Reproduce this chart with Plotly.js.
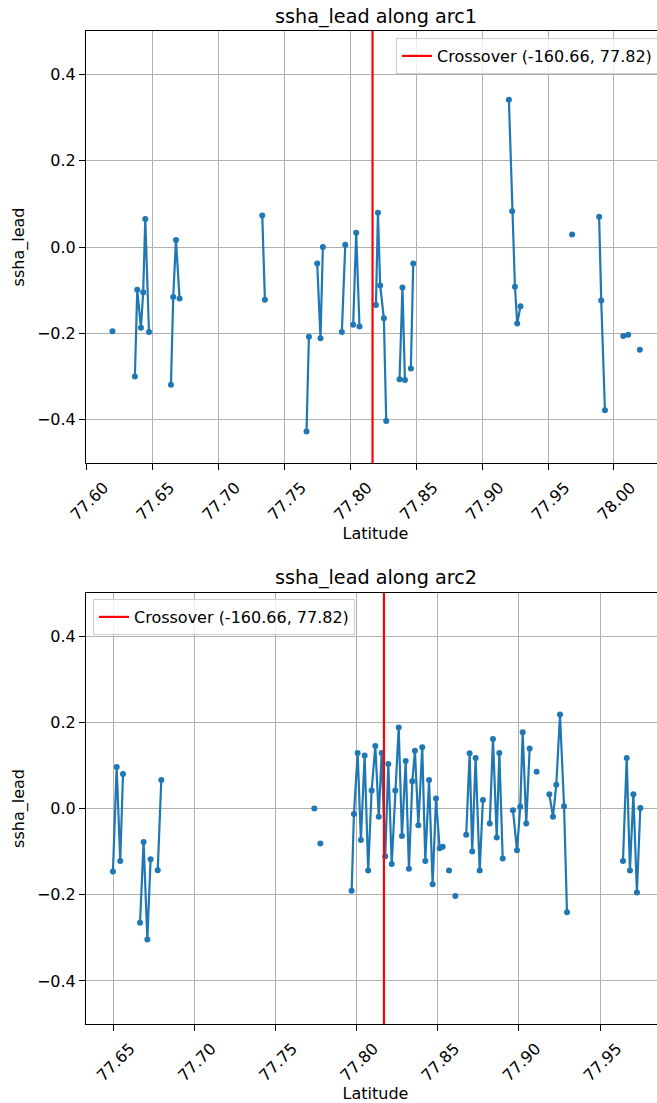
<!DOCTYPE html>
<html>
<head>
<meta charset="utf-8">
<script src="https://cdn.plot.ly/plotly-3.0.1.min.js"></script>
<style>
  html, body { margin: 0; padding: 0; overflow: hidden; background: #fff; }
  #chart { width: 700px; height: 1103px; }
</style>
</head>
<body>
<div id="chart"></div>
<script>
// ---- data (null = gap between along-track segments) ----
const arc1Lat = [77.6194, null,
  77.6364, 77.6382, 77.6410, 77.6427, 77.6443, 77.6471, null,
  77.6638, 77.6655, 77.6676, 77.6703, null,
  77.7331, 77.7351, null,
  77.7667, 77.7685, null,
  77.7748, 77.7773, 77.7791, null,
  77.7935, 77.7961, null,
  77.8021, 77.8044, 77.8069, null,
  77.8194, 77.8209, 77.8226, 77.8254, 77.8272, null,
  77.8373, 77.8395, 77.8414, null,
  77.8459, 77.8477, null,
  77.9203, 77.9228, 77.9249, 77.9266, 77.9291, null,
  77.9683, null,
  77.9888, 77.9904, 77.9932, null,
  78.0071, 78.0109, null,
  78.0197];
const arc1Ssha = [-0.195, null,
  -0.300, -0.099, -0.187, -0.105, 0.065, -0.197, null,
  -0.319, -0.116, 0.016, -0.119, null,
  0.073, -0.122, null,
  -0.427, -0.208, null,
  -0.038, -0.211, 0.000, null,
  -0.197, 0.005, null,
  -0.180, 0.033, -0.184, null,
  -0.134, 0.079, -0.089, -0.165, -0.403, null,
  -0.306, -0.094, -0.308, null,
  -0.281, -0.038, null,
  0.341, 0.083, -0.092, -0.177, -0.137, null,
  0.029, null,
  0.070, -0.124, -0.378, null,
  -0.206, -0.203, null,
  -0.238];

const arc2Lat = [
  77.6498, 77.6521, 77.6543, 77.6560, null,
  77.6665, 77.6687, 77.6710, 77.6730, null,
  77.6774, 77.6796, null,
  77.7739, null,
  77.7776, null,
  77.7969, 77.7983, 77.8006, 77.8026, 77.8049, 77.8071, 77.8092, 77.8115, 77.8136, 77.8154,
  77.8176, 77.8195, 77.8216, 77.8238, 77.8259, 77.8279, 77.8302, 77.8322, 77.8343, 77.8359,
  77.8380, 77.8404, 77.8423, 77.8446, 77.8468, 77.8489, 77.8511, 77.8530, null,
  77.8569, null,
  77.8608, null,
  77.8675, 77.8696, 77.8712, 77.8733, 77.8758, 77.8778, null,
  77.8820, 77.8840, 77.8863, 77.8879, 77.8900, null,
  77.8963, 77.8988, 77.9008, 77.9023, 77.9045, 77.9066, null,
  77.9109, null,
  77.9187, 77.9210, 77.9230, 77.9253, 77.9278, 77.9296, null,
  77.9641, 77.9664, 77.9684, 77.9705, 77.9727, 77.9748];
const arc2Ssha = [
  -0.146, 0.096, -0.122, 0.080, null,
  -0.265, -0.078, -0.304, -0.118, null,
  -0.143, 0.066, null,
  0.000, null,
  -0.081, null,
  -0.191, -0.013, 0.129, -0.073, 0.123, -0.144, 0.042, 0.145, -0.019, 0.129,
  -0.111, 0.103, -0.129, 0.042, 0.188, -0.064, 0.110, -0.140, 0.063, 0.134,
  -0.039, 0.142, -0.122, 0.066, -0.176, 0.023, -0.092, -0.089, null,
  -0.144, null,
  -0.203, null,
  -0.061, 0.128, -0.100, 0.117, -0.144, 0.020, null,
  -0.035, 0.161, -0.067, 0.129, -0.116, null,
  -0.004, -0.097, 0.004, 0.177, -0.035, 0.139, null,
  0.085, null,
  0.033, -0.019, 0.055, 0.218, 0.005, -0.241, null,
  -0.122, 0.117, -0.144, 0.033, -0.195, 0.001];

const crossoverLat = 77.8168;
const crossoverLabel = "Crossover (-160.66, 77.82)";
const yTicks = [-0.4, -0.2, 0.0, 0.2, 0.4];
const x1Ticks = [77.60, 77.65, 77.70, 77.75, 77.80, 77.85, 77.90, 77.95, 78.00];
const x2Ticks = [77.65, 77.70, 77.75, 77.80, 77.85, 77.90, 77.95];
const titles = ["ssha_lead along arc1", "ssha_lead along arc2"];

// ---- styling / layout ----
const W = 700, H = 1103;
const FONT = "DejaVu Sans, sans-serif";
const BLUE = "#1f77b4";
const px = v => v / W;
const py = v => 1 - v / H;
const left = 86, right = 665;
const FS = 16;

const lineStyle = {color: BLUE, width: 2.2};
const markerStyle = {color: BLUE, size: 6};

const traces = [
  {x: arc1Lat, y: arc1Ssha, xaxis: "x", yaxis: "y", mode: "lines+markers",
   line: lineStyle, marker: markerStyle, showlegend: false, connectgaps: false},
  {x: [crossoverLat, crossoverLat], y: [-0.5, 0.5], xaxis: "x", yaxis: "y", mode: "lines",
   line: {color: "red", width: 2.2}, name: crossoverLabel, legend: "legend"},
  {x: arc2Lat, y: arc2Ssha, xaxis: "x2", yaxis: "y2", mode: "lines+markers",
   line: lineStyle, marker: markerStyle, showlegend: false, connectgaps: false},
  {x: [crossoverLat, crossoverLat], y: [-0.5, 0.5], xaxis: "x2", yaxis: "y2", mode: "lines",
   line: {color: "red", width: 2.2}, name: crossoverLabel, legend: "legend2"}
];

function xAxis(domainRange, ticks, anchor) {
  return {
    domain: [px(left), px(right)], range: domainRange, anchor: anchor,
    tickmode: "array", tickvals: ticks, tickformat: ".2f", tickangle: -45,
    ticks: "outside", ticklen: 6, tickwidth: 1, tickcolor: "#000",
    ticklabelshift: 17, ticklabelstandoff: 2,
    showline: true, linecolor: "#000", linewidth: 1, mirror: true,
    showgrid: true, gridcolor: "#b0b0b0", gridwidth: 1, zeroline: false,
    tickfont: {family: FONT, size: FS, color: "#000"},
    title: {text: "Latitude", font: {family: FONT, size: FS, color: "#000"}, standoff: 2}
  };
}
function yAxis(domain, anchor) {
  return {
    domain: domain, range: [-0.5, 0.5], anchor: anchor,
    tickmode: "array", tickvals: yTicks, tickformat: ".1f",
    ticks: "outside", ticklen: 6, tickwidth: 1, tickcolor: "#000",
    showline: true, linecolor: "#000", linewidth: 1, mirror: true,
    showgrid: true, gridcolor: "#b0b0b0", gridwidth: 1, zeroline: false,
    tickfont: {family: FONT, size: FS, color: "#000"},
    title: {text: "ssha_lead", font: {family: FONT, size: FS, color: "#000"}, standoff: 8}
  };
}

const legendStyle = {
  bgcolor: "rgba(255,255,255,0.8)", bordercolor: "#cccccc", borderwidth: 1,
  font: {family: FONT, size: FS, color: "#000"}
};

const layout = {
  width: W, height: H,
  margin: {l: 0, r: 0, t: 0, b: 0},
  paper_bgcolor: "#fff", plot_bgcolor: "#fff",
  font: {family: FONT, color: "#000"},
  xaxis: xAxis([77.5993, 78.0388], x1Ticks, "y"),
  yaxis: yAxis([py(463), py(31)], "x"),
  xaxis2: xAxis([77.6332, 77.9900], x2Ticks, "y2"),
  yaxis2: yAxis([py(1024), py(593)], "x2"),
  legend: Object.assign({x: px(658), xanchor: "right", y: py(38), yanchor: "top"}, legendStyle),
  legend2: Object.assign({x: px(93), xanchor: "left", y: py(599), yanchor: "top"}, legendStyle),
  annotations: [
    {text: titles[0], xref: "paper", yref: "paper", x: px((left + right) / 2), y: py(17),
     xanchor: "center", yanchor: "middle", showarrow: false,
     font: {family: FONT, size: 19.2, color: "#000"}},
    {text: titles[1], xref: "paper", yref: "paper", x: px((left + right) / 2), y: py(577),
     xanchor: "center", yanchor: "middle", showarrow: false,
     font: {family: FONT, size: 19.2, color: "#000"}}
  ]
};

Plotly.newPlot("chart", traces, layout, {displayModeBar: false, staticPlot: true});
</script>
</body>
</html>
